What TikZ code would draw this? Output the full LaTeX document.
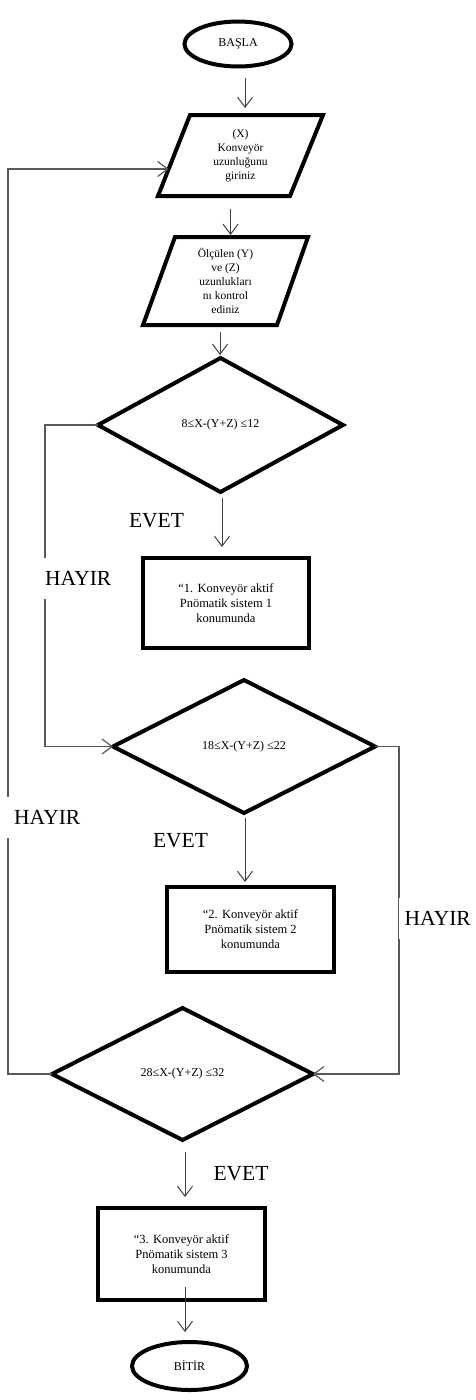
\documentclass[tikz,border=0pt]{standalone}
\usepackage{fontspec}
\setmainfont{Liberation Serif}
\usetikzlibrary{shapes.geometric,arrows.meta,calc}
\begin{document}
\begin{tikzpicture}[x=1pt,y=-1pt,
  shp/.style={draw=black,line width=4pt,outer sep=0pt,inner sep=2pt,align=center,font=\fontsize{11.5}{14}\selectfont},
  outline/.style={draw=black,line width=4pt,line join=miter},
  iotext/.style={inner sep=0pt,align=center,font=\fontsize{11.5}{14}\selectfont},
  term/.style={shp,ellipse,font=\fontsize{12}{14}\selectfont},
  dec/.style={shp,diamond,font=\fontsize{12}{14}\selectfont,inner sep=0pt},
  proc/.style={shp,rectangle,font=\fontsize{12.5}{15}\selectfont},
  arr/.style={draw=black!75,line width=1pt,-{Straight Barb[length=10pt,width=15pt]}},
  back/.style={draw=black!65,line width=1.2pt,-{Straight Barb[length=10pt,width=15pt]}},
  lbl/.style={font=\fontsize{21.5}{24}\selectfont,text height=14pt,text depth=0pt},
  gaplbl/.style={lbl,fill=white,anchor=west,minimum height=41pt}]
\useasboundingbox (0,0) rectangle (475,1400);
\fill[white] (0,0) rectangle (475,1400);

% start
\node[term,minimum width=107pt,minimum height=45pt] (s) at (238,44) {BAŞLA};

% input parallelogram 1
\coordinate (p1tl) at (190,115);
\coordinate (p1tr) at (323,115);
\coordinate (p1br) at (290,196);
\coordinate (p1bl) at (158,196);
\draw[outline] (p1tl) -- (p1tr) -- (p1br) -- (p1bl) -- cycle;
\node[iotext] (p1) at (240.5,155.5) {(X)\\Konveyör\\uzunluğunu\\giriniz};

% input parallelogram 2
\coordinate (p2tl) at (175,237);
\coordinate (p2tr) at (308,237);
\coordinate (p2br) at (277,325);
\coordinate (p2bl) at (143,325);
\draw[outline] (p2tl) -- (p2tr) -- (p2br) -- (p2bl) -- cycle;
\node[iotext] (p2) at (225.5,281) {Ölçülen (Y)\\ve (Z)\\uzunlukları\\nı kontrol\\ediniz};

% decisions and processes
\node[dec,minimum width=245pt,minimum height=134pt] (d1) at (220.5,425) {8≤X-(Y+Z) ≤12};
\node[proc,minimum width=166pt,minimum height=90pt] (b1) at (226,603) {“1. Konveyör aktif\\Pnömatik sistem 1\\konumunda};
\node[dec,minimum width=262pt,minimum height=133pt] (d2) at (244,746.5) {18≤X-(Y+Z) ≤22};
\node[proc,minimum width=167pt,minimum height=85pt] (b2) at (250.5,929.5) {“2. Konveyör aktif\\Pnömatik sistem 2\\konumunda};
\node[dec,minimum width=261pt,minimum height=132pt] (d3) at (182.5,1074) {28≤X-(Y+Z) ≤32};
\node[proc,minimum width=167pt,minimum height=92pt] (b3) at (181.5,1254) {“3. Konveyör aktif\\Pnömatik sistem 3\\konumunda};
\node[term,minimum width=115pt,minimum height=48pt] (e) at (189.5,1366) {BİTİR};

% straight connectors
\coordinate (a1) at ($(s.south)+(7,0)$);
\draw[arr,shorten <=11pt,shorten >=7pt] (a1) -- (a1 |- p1tl);
\coordinate (a2) at ($(p1bl)!0.55!(p1br)$);
\draw[arr,shorten <=13pt,shorten >=2pt] (a2) -- (a2 |- p2tl);
\coordinate (a3) at ($(p2bl)!0.575!(p2br)$);
\draw[arr,shorten <=7pt,shorten >=3pt] (a3) -- (a3 |- d1.north);
\draw[arr,shorten <=6pt,shorten >=11pt] ([xshift=1.5pt]d1.south) -- ([xshift=1.5pt]d1.south |- b1.north);
\draw[arr,shorten <=5pt,shorten >=5pt] ([xshift=1pt]d2.south) -- ([xshift=1pt]d2.south |- b2.north);
\draw[arr,shorten <=12pt,shorten >=11pt] ([xshift=2.5pt]d3.south) -- ([xshift=2.5pt]d3.south |- b3.north);
\draw[arr,shorten <=-13pt,shorten >=10pt] ([xshift=3.5pt]b3.south) -- ([xshift=3.5pt]b3.south |- e.north);

% loop-back connectors
\coordinate (c1) at ($(p1bl)!0.333!(p1tl)$);
\draw[back] (d1.west) -- ++(-53pt,0) |- (d2.west);
\draw[back] (d2.east) -- ++(24pt,0) |- (d3.east);
\draw[back] (d3.west) -- ++(-44pt,0) |- (c1);

% labels
\node[lbl] (ev1) at (156.5,520) {EVET};
\node[lbl] (ev2) at (180.5,840) {EVET};
\node[lbl] (ev3) at (241,1173.5) {EVET};
\node[gaplbl,inner xsep=1.5pt] (h1) at (43.5,578) {HAYIR};
\node[gaplbl,inner xsep=7pt] (h2) at (7,817.5) {HAYIR};
\node[gaplbl,inner xsep=6pt] (h3) at (398.5,918) {HAYIR};
\end{tikzpicture}
\end{document}
